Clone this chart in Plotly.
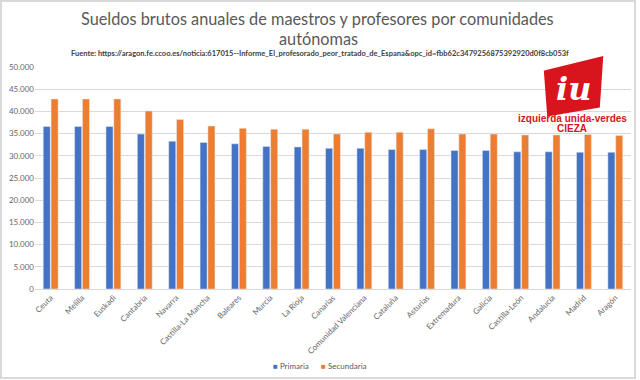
import plotly.graph_objects as go

categorias = ["Ceuta", "Melilla", "Euskadi", "Cantabria", "Navarra", "Castilla-La Mancha",
              "Baleares", "Murcia", "La Rioja", "Canarias", "Comunidad Valenciana", "Cataluña",
              "Asturias", "Extremadura", "Galicia", "Castilla-León", "Andalucía", "Madrid", "Aragón"]
primaria = [36600, 36600, 36600, 34900, 33300, 33000, 32700, 32100, 32000, 31700,
            31700, 31400, 31400, 31200, 31200, 30900, 30900, 30800, 30800]
secundaria = [42800, 42800, 42800, 40100, 38200, 36700, 36200, 36000, 36000, 34900,
              35300, 35300, 36100, 34900, 34900, 34700, 34700, 34800, 34600]

W, H = 640, 380
L, R, T, B = 35, 9, 67, 91
pw, ph = W - L - R, H - T - B

def px(x):
    return (x - L) / pw

def py(y):
    return (H - B - y) / ph

GRAY = "#595959"
BLUE, ORANGE = "#4472C4", "#ED7D31"
fig = go.Figure()
fig.add_trace(go.Bar(name="Primaria", x=categorias, y=primaria, marker_color=BLUE))
fig.add_trace(go.Bar(name="Secundaria", x=categorias, y=secundaria, marker_color=ORANGE))

fig.update_layout(
    width=W, height=H,
    margin=dict(l=L, r=R, t=T, b=B, autoexpand=False),
    paper_bgcolor="white", plot_bgcolor="white",
    barmode="group", bargap=0.5, bargroupgap=0.1,
    separators=",.",
    font=dict(family="Lato, sans-serif", color=GRAY, size=8),
    showlegend=False,
    xaxis=dict(tickangle=-45, tickfont=dict(size=8, color="#666666"), showgrid=False,
               showline=True, linecolor="#d9d9d9", ticks="", automargin=False),
    yaxis=dict(range=[0, 50000], dtick=5000, tickformat=",d", gridcolor="#d9d9d9",
               tickfont=dict(size=8, color="#666666"), zeroline=False, ticks="", automargin=False),
)

def note(x, y, text, **font):
    fig.add_annotation(xref="paper", yref="paper", x=px(x), y=py(y), showarrow=False,
                       xanchor="center", yanchor="middle", text=text, font=font)

note(317, 18, "Sueldos brutos anuales de maestros y profesores por comunidades",
     size=16.3, color=GRAY, family="Lato, sans-serif")
note(318, 39, "autónomas", size=16.3, color=GRAY, family="Lato, sans-serif")
note(320, 53.5, "<b>Fuente: https://aragon.fe.ccoo.es/noticia:617015--Informe_El_profesorado_peor_tratado_de_Espana&opc_id=fbb62c3479256875392920d0f8cb053f</b>",
     size=7.5, color="#404040", family="Liberation Sans Narrow, Lato, sans-serif")

# legend drawn as text
note(320, 366, f"<span style='color:{BLUE}'>■</span> Primaria      <span style='color:{ORANGE}'>■</span> Secundaria",
     size=8, color=GRAY, family="Lato, sans-serif")

# logo
pts = [(547, 73), (600, 60), (597, 105), (550, 113)]
path = "M " + " L ".join(f"{px(x)},{py(y)}" for x, y in pts) + " Z"
fig.add_shape(type="path", xref="paper", yref="paper", path=path,
              fillcolor="#D8141C", line=dict(color="#D8141C", width=6))
note(573, 89, "<b><i>iu</i></b>", size=32, color="white", family="DejaVu Serif")
note(572, 118, "<b>izquierda unida-verdes</b>", size=10, color="#D8141C",
     family="Liberation Sans Narrow, sans-serif")
note(572, 128, "<b>CIEZA</b>", size=10, color="#D8141C",
     family="Liberation Sans Narrow, sans-serif")

# frame
fig.add_shape(type="rect", xref="paper", yref="paper", x0=px(1), y0=py(378), x1=px(635), y1=py(1),
              line=dict(color="#d9d9d9", width=2), fillcolor="rgba(0,0,0,0)")

fig.write_html("out.html", post_script="document.body.style.margin='0';",
               config={"displayModeBar": False})
